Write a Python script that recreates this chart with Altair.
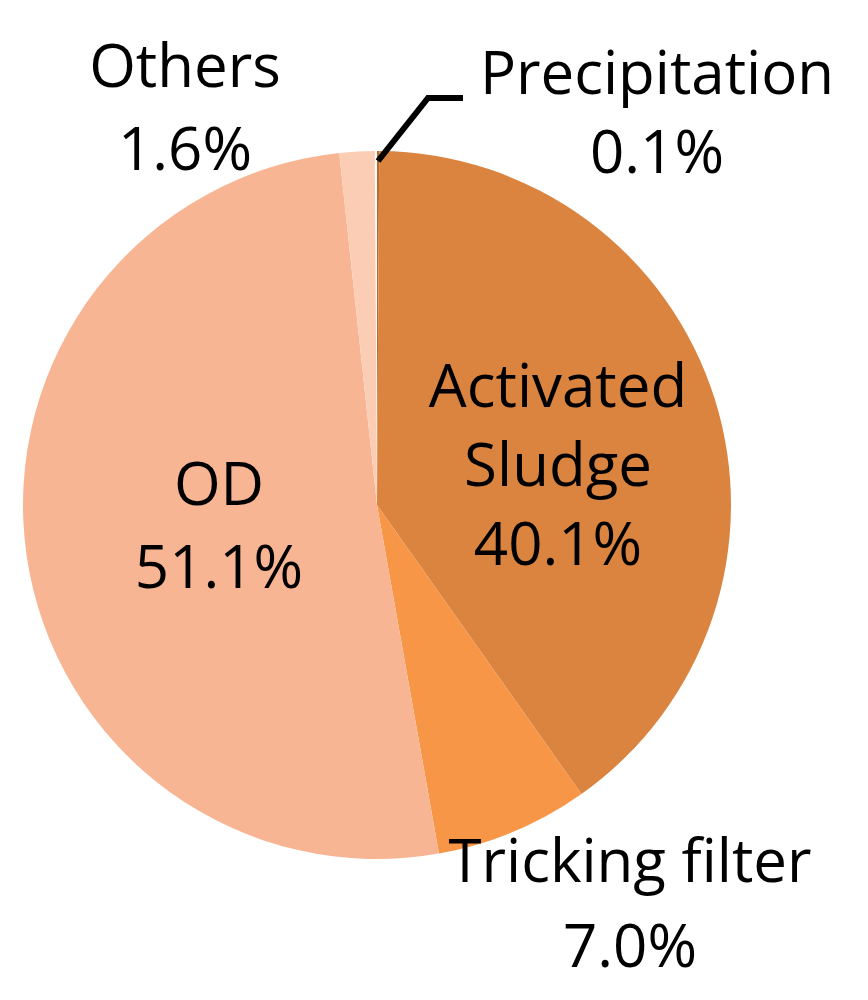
import altair as alt
import pandas as pd

# Data
categories = ["Precipitation", "Activated Sludge", "Tricking filter", "OD", "Others"]
shares = [0.1, 40.1, 7.0, 51.1, 1.6]
colors = ["#B9692F", "#DA8440", "#F79646", "#F8B593", "#FBCDB5"]

label_lines = [
    ["Precipitation", "0.1%"],
    ["Activated", "Sludge", "40.1%"],
    ["Tricking filter", "7.0%"],
    ["OD", "51.1%"],
    ["Others", "1.6%"],
]

# Layout (chart pixel coordinates)
OFF = 8
CX, CY, R = 377 - OFF, 505 - OFF, 354
label_pos = [  # (center x, first baseline y, line step)
    (657, 94, 79),
    (558, 407, 79),
    (630, 882, 85),
    (219, 505, 83),
    (185, 87, 83),
]
FONT = "Open Sans"
FS = 60

pie_df = pd.DataFrame({"cat": categories, "share": shares, "idx": list(range(len(categories)))})

pie = alt.Chart(pie_df).mark_arc(outerRadius=R, stroke=None).encode(
    theta=alt.Theta("share:Q", stack=True, scale=alt.Scale(range=[0, 6.2832 * sum(shares) / 100])),
    order=alt.Order("idx:Q"),
    color=alt.Color("cat:N", scale=alt.Scale(domain=categories, range=colors), legend=None),
    x=alt.value(CX),
    y=alt.value(CY),
)

rows = []
for lines, (lx, ly, step) in zip(label_lines, label_pos):
    for i, t in enumerate(lines):
        rows.append({"t": t, "px": lx - OFF, "py": ly - OFF + i * step})
lab_df = pd.DataFrame(rows)

labels = alt.Chart(lab_df).mark_text(
    font=FONT, fontSize=FS, color="black", align="center", baseline="alphabetic"
).encode(
    text="t:N",
    x=alt.X("px:Q", scale=None),
    y=alt.Y("py:Q", scale=None),
)

leader_df = pd.DataFrame({"px": [378 - OFF, 428 - OFF, 463 - OFF], "py": [161 - OFF, 98 - OFF, 98 - OFF], "o": [0, 1, 2]})
leader = alt.Chart(leader_df).mark_line(color="black", strokeWidth=6, strokeCap="butt", strokeJoin="miter").encode(
    x=alt.X("px:Q", scale=None),
    y=alt.Y("py:Q", scale=None),
    order="o:Q",
)

chart = alt.layer(pie, leader, labels).properties(
    width=852, height=984, autosize=alt.AutoSizeParams(type="none"), padding=0
).configure_view(stroke=None)

chart.save("out.html", embed_options={"renderer": "svg", "actions": False})
